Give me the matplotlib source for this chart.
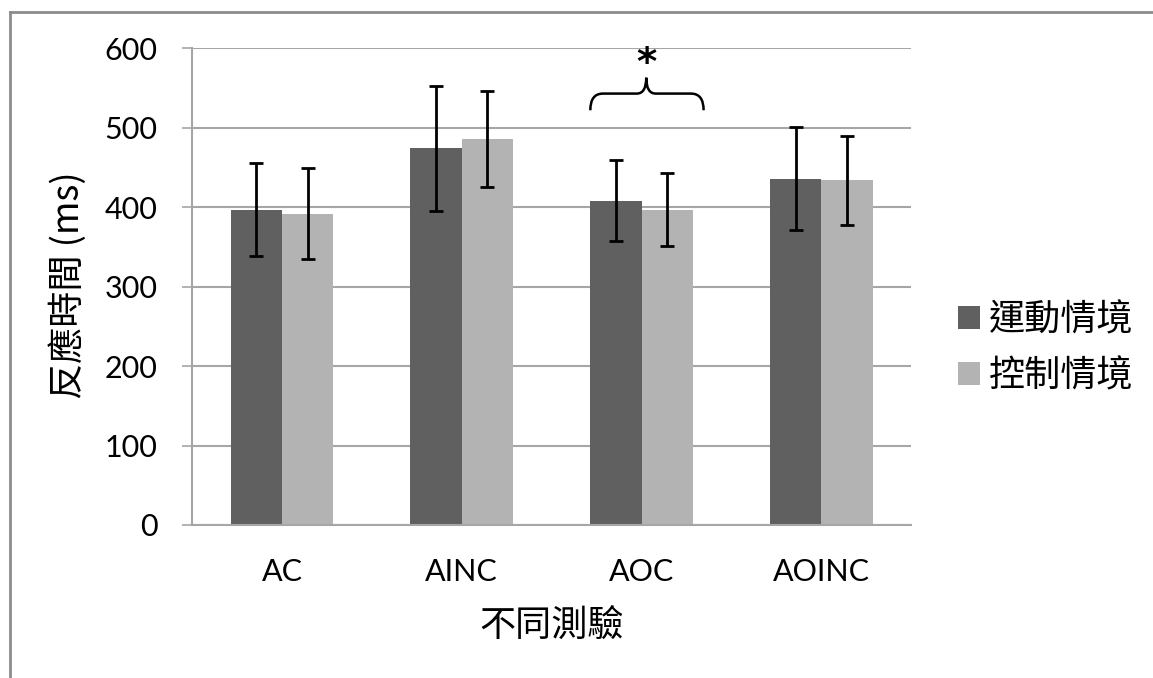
import matplotlib
matplotlib.use("Agg")
import matplotlib.pyplot as plt
import numpy as np
from matplotlib.path import Path
from matplotlib.patches import PathPatch
from matplotlib.lines import Line2D

categories = ['AC', 'AINC', 'AOC', 'AOINC']
series_names = ['運動情境', '控制情境']
motion = [397, 474, 408, 436]
control = [392, 486, 397, 434]
motion_err = [59, 79, 51, 65]
control_err = [57, 60, 46, 56]
yticks = [0, 100, 200, 300, 400, 500, 600]

cjk = ['Noto Sans CJK TC', 'DejaVu Sans']
num_font = 'Lato'
grid_c = '#a6a6a6'

fig = plt.figure(figsize=(11.53, 6.78), dpi=100)
ax = fig.add_axes([192/1153, 1-525/678, (911.3-192)/1153, (525-48.3)/678])

x = np.arange(len(categories))
w = 0.285
ax.bar(x - w/2, motion, w, color='#606060', label=series_names[0], zorder=2)
ax.bar(x + w/2, control, w, color='#b3b3b3', label=series_names[1], zorder=2)
ax.errorbar(x - w/2, motion, yerr=motion_err, fmt='none', ecolor='black',
            elinewidth=2, capsize=5, capthick=2, zorder=3)
ax.errorbar(x + w/2, control, yerr=control_err, fmt='none', ecolor='black',
            elinewidth=2, capsize=5, capthick=2, zorder=3)

ax.set_xlim(-0.5, len(categories) - 0.5)
ax.set_ylim(0, 600)
ax.set_yticks(yticks)
ax.set_xticks(x)
ax.set_xticklabels(categories, fontfamily=num_font, fontsize=22)
ax.set_yticklabels([str(v) for v in yticks], fontfamily=num_font, fontsize=22)
ax.yaxis.grid(True, color=grid_c, linewidth=1.5, zorder=0)
ax.set_axisbelow(True)
for s in ['top', 'right']:
    ax.spines[s].set_visible(False)
for s in ['left', 'bottom']:
    ax.spines[s].set_color(grid_c)
    ax.spines[s].set_linewidth(1.5)
ax.tick_params(axis='y', length=7, width=1.2, color=grid_c, pad=18)
ax.tick_params(axis='x', length=0, pad=24)

fig.text(68/1153, 1-285/678, '反應時間 (ms)', rotation=90, ha='center', va='center',
         fontsize=26, family=cjk)
fig.text(552/1153, 1-627/678, '不同測驗', ha='center', va='center',
         fontsize=26, family=cjk)

# brace over AOC
c = x[2] + 0.026
L = x[2] - w
R = x[2] + w + 0.06
y0, y1, yt = 522, 543, 563
dx = 0.07
verts = [(L, y0), (L, y1), (L + dx, y1),
         (c - dx * 0.75, y1), (c, y1), (c, yt),
         (c, y1), (c + dx * 0.75, y1),
         (R - dx, y1), (R, y1), (R, y0)]
codes = [Path.MOVETO, Path.CURVE3, Path.CURVE3,
         Path.LINETO, Path.CURVE3, Path.CURVE3,
         Path.CURVE3, Path.CURVE3,
         Path.LINETO, Path.CURVE3, Path.CURVE3]
ax.add_patch(PathPatch(Path(verts, codes), fill=False, lw=1.8, color='black',
                       clip_on=False, zorder=4))
ax.text(c, 580, '*', ha='center', va='center', fontsize=28, fontweight='bold',
        family='DejaVu Sans', clip_on=False)

ax.legend(loc='center left', bbox_to_anchor=(958/1153, 1-348.5/678),
          bbox_transform=fig.transFigure, frameon=False, borderpad=0,
          borderaxespad=0, handlelength=0.6, handleheight=0.6,
          handletextpad=0.25, labelspacing=0.55, prop={'family': cjk, 'size': 26})

# outer frame lines (top and left)
fig.add_artist(Line2D([10/1153, 1], [1-12/678, 1-12/678], color='#8c8c8c', lw=2,
                      transform=fig.transFigure))
fig.add_artist(Line2D([10/1153, 10/1153], [0, 1-12/678], color='#8c8c8c', lw=2,
                      transform=fig.transFigure))

fig.savefig('out.png', dpi=100, facecolor='white')
